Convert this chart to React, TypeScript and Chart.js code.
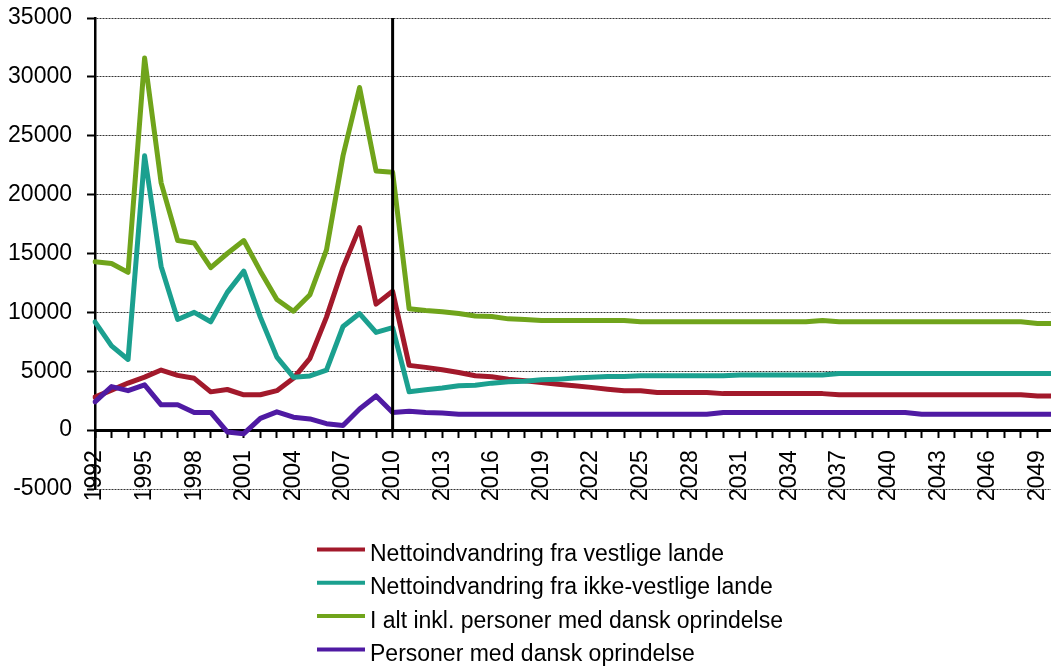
import React, { useEffect, useRef } from 'react';
import { Chart, registerables } from 'chart.js';

Chart.register(...registerables);

const YEARS = [
  '1992', '1993', '1994', '1995', '1996', '1997', '1998', '1999', '2000', '2001',
  '2002', '2003', '2004', '2005', '2006', '2007', '2008', '2009', '2010', '2011',
  '2012', '2013', '2014', '2015', '2016', '2017', '2018', '2019', '2020', '2021',
  '2022', '2023', '2024', '2025', '2026', '2027', '2028', '2029', '2030', '2031',
  '2032', '2033', '2034', '2035', '2036', '2037', '2038', '2039', '2040', '2041',
  '2042', '2043', '2044', '2045', '2046', '2047', '2048', '2049', '2050',
];

const VESTLIGE = [
  2800, 3400, 4000, 4500, 5100, 4650, 4400, 3250, 3450, 3000,
  3000, 3350, 4400, 6100, 9600, 13800, 17200, 10700, 11800, 5500,
  5330, 5120, 4900, 4620, 4530, 4330, 4190, 4050, 3900, 3760,
  3630, 3480, 3340, 3340, 3200, 3200, 3200, 3200, 3100, 3100,
  3100, 3100, 3100, 3100, 3100, 3000, 3000, 3000, 3000, 3000,
  3000, 3000, 3000, 3000, 3000, 3000, 3000, 2900, 2900,
];

const IKKE_VESTLIGE = [
  9200, 7150, 6000, 23300, 13900, 9400, 10000, 9200, 11700, 13500,
  9600, 6200, 4500, 4600, 5100, 8800, 9900, 8300, 8700, 3250,
  3420, 3570, 3760, 3820, 3990, 4100, 4160, 4270, 4330, 4420,
  4500, 4560, 4560, 4610, 4610, 4610, 4610, 4610, 4610, 4680,
  4680, 4680, 4680, 4680, 4680, 4800, 4800, 4800, 4800, 4800,
  4800, 4800, 4800, 4800, 4800, 4800, 4800, 4800, 4800,
];

const I_ALT = [
  14300, 14150, 13400, 31600, 21000, 16100, 15900, 13800, 15000, 16100,
  13500, 11100, 10100, 11500, 15300, 23300, 29100, 22000, 21900, 10300,
  10150, 10050, 9900, 9700, 9650, 9450, 9400, 9300, 9300, 9300,
  9300, 9300, 9300, 9200, 9200, 9200, 9200, 9200, 9200, 9200,
  9200, 9200, 9200, 9200, 9300, 9200, 9200, 9200, 9200, 9200,
  9200, 9200, 9200, 9200, 9200, 9200, 9200, 9050, 9050,
];

const DANSK = [
  2400, 3700, 3350, 3850, 2150, 2150, 1500, 1500, -150, -300,
  1000, 1550, 1100, 950, 550, 400, 1800, 2900, 1500, 1600,
  1500, 1450, 1350, 1350, 1350, 1350, 1350, 1350, 1350, 1350,
  1350, 1350, 1350, 1350, 1350, 1350, 1350, 1350, 1500, 1500,
  1500, 1500, 1500, 1500, 1500, 1500, 1500, 1500, 1500, 1500,
  1350, 1350, 1350, 1350, 1350, 1350, 1350, 1350, 1350,
];

const SERIES_LABELS = [
  'Nettoindvandring fra vestlige lande',
  'Nettoindvandring fra ikke-vestlige lande',
  'I alt inkl. personer med dansk oprindelse',
  'Personer med dansk oprindelse',
];
const SERIES_COLORS = ['#A2192B', '#1BA08F', '#70A41B', '#4F1AA3'];

const Y_MIN = -5000;
const Y_MAX = 35000;
const Y_STEP = 5000;
const MARKER_YEAR = '2010';
const LABEL_EVERY = 3;

const FONT = "'Liberation Sans', Arial, sans-serif";

const markerLinePlugin = {
  id: 'markerLine',
  afterDatasetsDraw(chart: any) {
    const { ctx, chartArea, scales } = chart;
    const idx = YEARS.indexOf(MARKER_YEAR);
    const x = scales.x.getPixelForValue(idx);
    const yBottom = scales.y.getPixelForValue(0);
    ctx.save();
    ctx.strokeStyle = '#000';
    ctx.lineWidth = 3;
    ctx.beginPath();
    ctx.moveTo(x, chartArea.top);
    ctx.lineTo(x, yBottom);
    ctx.stroke();
    ctx.restore();
  },
};

const stackedLegendPlugin = {
  id: 'stackedLegend',
  afterDraw(chart: any) {
    const { ctx } = chart;
    const left = 317;
    const top = 549.5;
    const row = 33.3;
    ctx.save();
    ctx.font = `23px ${FONT}`;
    ctx.textAlign = 'left';
    ctx.textBaseline = 'alphabetic';
    chart.data.datasets.forEach((ds: any, i: number) => {
      const y = top + i * row;
      ctx.strokeStyle = ds.borderColor;
      ctx.lineWidth = 4;
      ctx.lineCap = 'butt';
      ctx.beginPath();
      ctx.moveTo(left, y);
      ctx.lineTo(left + 48, y);
      ctx.stroke();
      ctx.fillStyle = '#000';
      ctx.fillText(ds.label, left + 53, y + 11.5);
    });
    ctx.restore();
  },
};

export default function App() {
  const canvasRef = useRef<HTMLCanvasElement | null>(null);

  useEffect(() => {
    if (!canvasRef.current) return;
    const seriesValues = [VESTLIGE, IKKE_VESTLIGE, I_ALT, DANSK];
    const chart = new Chart(canvasRef.current, {
      type: 'line',
      data: {
        labels: YEARS,
        datasets: seriesValues.map((vals, i) => ({
          label: SERIES_LABELS[i],
          data: vals,
          borderColor: SERIES_COLORS[i],
          backgroundColor: SERIES_COLORS[i],
          borderWidth: 5,
          pointRadius: 0,
          tension: 0,
          fill: false,
          borderJoinStyle: 'round' as const,
          borderCapStyle: 'round' as const,
          order: 4 - i,
        })),
      },
      options: {
        responsive: false,
        animation: false,
        devicePixelRatio: 1,
        layout: { padding: { top: 18, right: 0, bottom: 177, left: 0 } },
        plugins: {
          legend: { display: false },
          tooltip: { enabled: false },
        },
        scales: {
          x: {
            type: 'category',
            position: { y: 0 } as any,
            offset: false,
            grid: {
              display: true,
              drawOnChartArea: false,
              drawTicks: true,
              tickLength: 6,
              tickWidth: 2,
              tickColor: '#000',
            },
            border: { display: true, color: '#000', width: 3 },
            ticks: {
              autoSkip: false,
              maxRotation: 90,
              minRotation: 90,
              padding: 14,
              color: '#000',
              font: { size: 23, family: FONT },
              callback: (_v: any, i: number) => (i % LABEL_EVERY === 0 ? YEARS[i] : ''),
            },
            afterFit: (scale: any) => {
              scale.paddingLeft = 0;
              scale.paddingRight = 0;
              scale.paddingTop = 0;
              scale.paddingBottom = 0;
            },
          },
          y: {
            type: 'linear',
            position: 'left',
            min: Y_MIN,
            max: Y_MAX,
            grid: {
              color: '#333',
              lineWidth: 1,
              drawTicks: true,
              tickLength: 8,
              tickWidth: 2,
              tickColor: '#000',
              tickBorderDash: [],
            },
            border: { display: true, color: '#000', width: 2.5, dash: [2, 1] },
            ticks: {
              stepSize: Y_STEP,
              padding: 15,
              color: '#000',
              font: { size: 23, family: FONT },
              callback: (v: any) => String(v),
            },
            afterFit: (scale: any) => {
              scale.width = 95;
              scale.paddingTop = 0;
              scale.paddingBottom = 0;
            },
          },
        },
      },
      plugins: [markerLinePlugin, stackedLegendPlugin],
    });
    return () => chart.destroy();
  }, []);

  return (
    <div
      style={{
        position: 'fixed',
        left: 0,
        top: 0,
        width: 1051,
        height: 666,
        overflow: 'hidden',
        background: '#fff',
      }}
    >
      <canvas ref={canvasRef} width={1054} height={666} style={{ display: 'block', width: 1054, height: 666 }} />
    </div>
  );
}
